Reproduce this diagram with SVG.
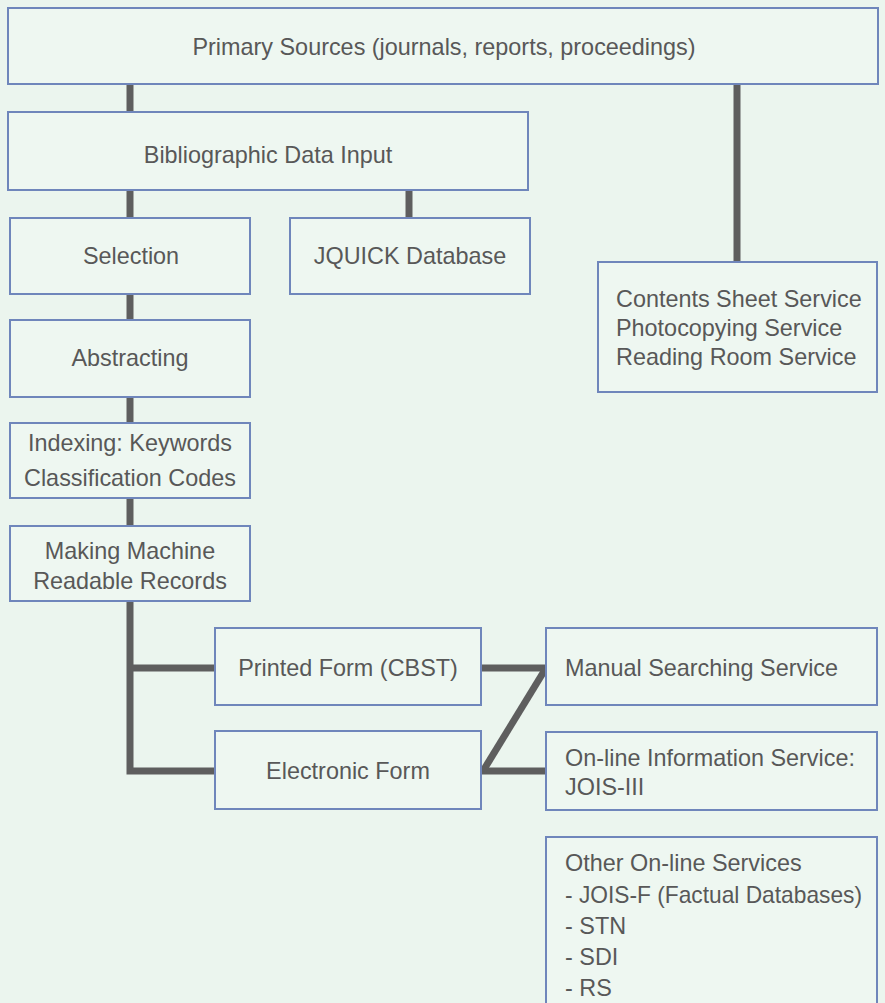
<svg xmlns="http://www.w3.org/2000/svg" width="885" height="1003" viewBox="0 0 885 1003">
<style>
.bg{fill:#ebf5ee}
.box{fill:#eef7f1;stroke:#6f86bb;stroke-width:2}
.t{font-family:"Liberation Sans",Arial,sans-serif;font-size:23.4px;fill:#585858}
.c{text-anchor:middle}
.conn{stroke:#5e5e5e;stroke-width:7;fill:none}
</style>
<rect class="bg" x="0" y="0" width="885" height="1003"/>
<g id="connectors">
<line class="conn" x1="130" y1="84" x2="130" y2="112"/>
<line class="conn" x1="737" y1="84" x2="737" y2="262"/>
<line class="conn" x1="130" y1="190" x2="130" y2="218"/>
<line class="conn" x1="409" y1="190" x2="409" y2="218"/>
<line class="conn" x1="130" y1="294" x2="130" y2="320"/>
<line class="conn" x1="130" y1="397" x2="130" y2="423"/>
<line class="conn" x1="130" y1="498" x2="130" y2="526"/>
<polyline class="conn" points="130,601 130,771 215,771"/>
<line class="conn" x1="130" y1="668" x2="215" y2="668"/>
<line class="conn" x1="481" y1="668" x2="546" y2="668"/>
<line class="conn" x1="481" y1="771" x2="546" y2="771"/>
<line class="conn" x1="483" y1="771" x2="546" y2="668"/>
</g>
<g id="primary"><rect class="box" x="8" y="8" width="870" height="76"/><text class="t c" x="444" y="55">Primary Sources (journals, reports, proceedings)</text></g>
<g id="bibliographic"><rect class="box" x="8" y="112" width="520" height="78"/><text class="t c" x="268" y="163">Bibliographic Data Input</text></g>
<g id="selection"><rect class="box" x="10" y="218" width="240" height="76"/><text class="t c" x="131" y="264">Selection</text></g>
<g id="jquick"><rect class="box" x="290" y="218" width="240" height="76"/><text class="t c" x="410" y="264">JQUICK Database</text></g>
<g id="contents"><rect class="box" x="598" y="262" width="279" height="130"/><text class="t" x="616" y="307">Contents Sheet Service</text><text class="t" x="616" y="336">Photocopying Service</text><text class="t" x="616" y="365">Reading Room Service</text></g>
<g id="abstracting"><rect class="box" x="10" y="320" width="240" height="77"/><text class="t c" x="130" y="366">Abstracting</text></g>
<g id="indexing"><rect class="box" x="10" y="423" width="240" height="75"/><text class="t c" x="130" y="451">Indexing: Keywords</text><text class="t c" x="130" y="486">Classification Codes</text></g>
<g id="making"><rect class="box" x="10" y="526" width="240" height="75"/><text class="t c" x="130" y="559">Making Machine</text><text class="t c" x="130" y="589">Readable Records</text></g>
<g id="printed"><rect class="box" x="215" y="628" width="266" height="77"/><text class="t c" x="348" y="676">Printed Form (CBST)</text></g>
<g id="electronic"><rect class="box" x="215" y="731" width="266" height="78"/><text class="t c" x="348" y="779">Electronic Form</text></g>
<g id="manual"><rect class="box" x="546" y="628" width="331" height="77"/><text class="t" x="565" y="676">Manual Searching Service</text></g>
<g id="online"><rect class="box" x="546" y="732" width="331" height="78"/><text class="t" x="565" y="766">On-line Information Service:</text><text class="t" x="565" y="795">JOIS-III</text></g>
<g id="other"><rect class="box" x="546" y="837" width="331" height="180"/><text class="t" x="565" y="871">Other On-line Services</text><text class="t" x="565" y="903" textLength="297" lengthAdjust="spacingAndGlyphs">- JOIS-F (Factual Databases)</text><text class="t" x="565" y="934">- STN</text><text class="t" x="565" y="965">- SDI</text><text class="t" x="565" y="996">- RS</text></g>
</svg>
